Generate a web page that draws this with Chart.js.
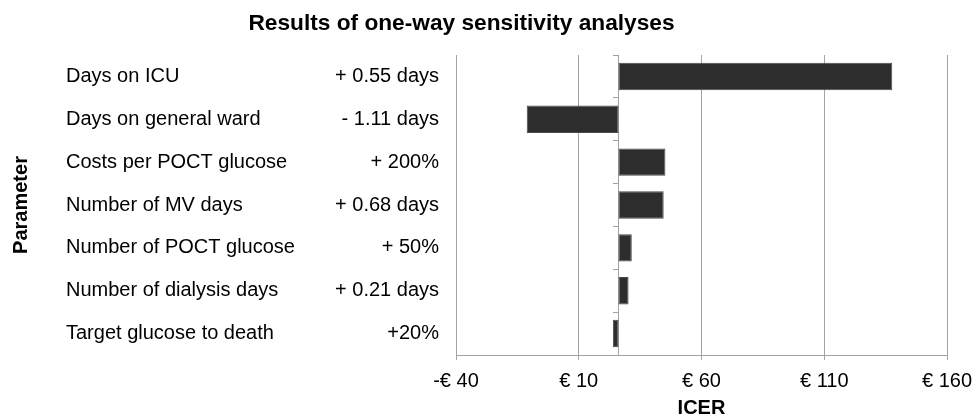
<!DOCTYPE html>
<html>
<head>
<meta charset="utf-8">
<script src="https://cdn.jsdelivr.net/npm/chart.js@4.4.1/dist/chart.umd.min.js"></script>
<style>
  html, body { margin: 0; padding: 0; background: #fff; }
  #wrap { width: 974px; height: 416px; }
</style>
</head>
<body>
<div id="wrap"><canvas id="myChart"></canvas></div>
<script>
// Data
const parameters = [
    'Days on ICU',
    'Days on general ward',
    'Costs per POCT glucose',
    'Number of MV days',
    'Number of POCT glucose',
    'Number of dialysis days',
    'Target glucose to death'
];
const changes = ['+ 0.55 days', '- 1.11 days', '+ 200%', '+ 0.68 days', '+ 50%', '+ 0.21 days', '+20%'];
const baseIcer = 26.2;  // base case ICER, where the bars start
const icerValues = [137.7, -11.2, 45.3, 44.6, 31.6, 30.3, 23.9];
const xTicks = [-40, 10, 60, 110, 160];

const FONT = "'Liberation Sans', Arial, sans-serif";
Chart.defaults.font.family = FONT;
Chart.defaults.color = '#000';

const gridGrey = '#a3a3a3';

// title is drawn by hand, it sits a bit left of the canvas centre
const titlePlugin = {
    id: 'chartTitle',
    afterDraw(chart) {
        const ctx = chart.ctx;
        ctx.save();
        ctx.font = 'bold 22.7px ' + FONT;
        ctx.fillStyle = '#000';
        ctx.textAlign = 'center';
        ctx.textBaseline = 'middle';
        ctx.fillText('Results of one-way sensitivity analyses', 461.5, 24);
        ctx.restore();
    }
};

const data = {
    labels: changes,
    datasets: [{
        label: 'ICER',
        data: icerValues.map(v => [baseIcer, v]),
        backgroundColor: '#2d2d2d',
        borderColor: '#4a4a4a',
        borderWidth: 1,
        borderSkipped: false,
        categoryPercentage: 0.64,
        barPercentage: 1
    }]
};

const config = {
    type: 'bar',
    data: data,
    options: {
        indexAxis: 'y',
        responsive: true,
        maintainAspectRatio: false,
        animation: false,
        layout: { padding: { top: 55, right: 27, bottom: 0, left: 0 } },
        plugins: {
            legend: { display: false },
            tooltip: { enabled: false }
        },
        scales: {
            x: {
                min: -40,
                max: 160,
                afterBuildTicks: s => { s.ticks = xTicks.map(v => ({ value: v })); },
                // keep the plot edges fixed, the end labels may hang over
                afterFit: s => { s.paddingLeft = 0; s.paddingRight = 0; },
                grid: { color: gridGrey, tickLength: 5 },
                border: { color: gridGrey },
                ticks: {
                    padding: 9,
                    font: { size: 20 },
                    callback: v => (v < 0 ? '-€ ' + Math.abs(v) : '€ ' + v)
                },
                title: {
                    display: true,
                    text: 'ICER',
                    font: { size: 20, weight: 'bold' },
                    padding: { top: -6, bottom: -4 }
                }
            },
            // the change column, right next to the plot
            y: {
                position: 'left',
                weight: 1,
                grid: { display: false, drawTicks: false },
                border: { display: false },
                ticks: { crossAlign: 'near', padding: 17, font: { size: 20 } },
                afterFit: s => { s.width = 156; }
            },
            // the parameter names, left aligned
            yName: {
                type: 'category',
                labels: parameters,
                position: 'left',
                weight: 2,
                offset: true,
                grid: { display: false, drawTicks: false },
                border: { display: false },
                ticks: { crossAlign: 'far', padding: 0, font: { size: 20 } },
                afterFit: s => { s.width = 234; }
            },
            // only carries the axis title
            yTitle: {
                type: 'category',
                labels: parameters,
                position: 'left',
                weight: 3,
                offset: true,
                grid: { display: false, drawTicks: false },
                border: { display: false },
                ticks: { display: false },
                title: {
                    display: true,
                    text: 'Parameter',
                    font: { size: 20, weight: 'bold' },
                    padding: { top: 9, bottom: 0 }
                },
                afterFit: s => { s.width = 66; }
            },
            // vertical axis line at the base case, with its small ticks
            yBase: {
                type: 'category',
                labels: parameters,
                position: { x: baseIcer },
                offset: true,
                grid: { offset: true, drawOnChartArea: false, tickLength: 5, color: gridGrey },
                border: { color: gridGrey },
                ticks: { display: false }
            }
        }
    },
    plugins: [titlePlugin]
};

const ctx = document.getElementById('myChart').getContext('2d');
new Chart(ctx, config);
</script>
</body>
</html>
